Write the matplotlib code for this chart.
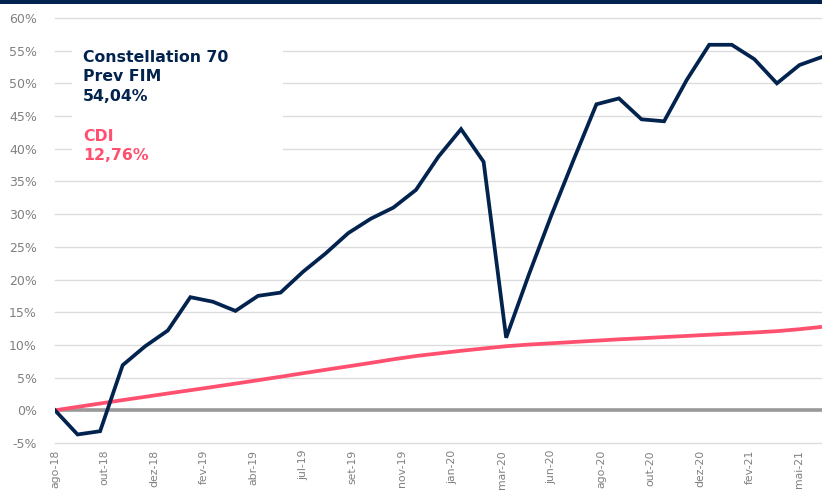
import numpy as np
import matplotlib
matplotlib.use("Agg")
from matplotlib import pyplot as plt
from matplotlib.patches import Rectangle

plt.rcParams['font.family'] = ['DejaVu Sans']

# monthly accumulated returns, ago-18 .. jun-21 (%)
fund = [0.0, -3.7, -3.2, 6.9, 9.8, 12.2, 17.3, 16.6, 15.2, 17.5,
        18.0, 21.2, 24.0, 27.1, 29.3, 31.0, 33.7, 38.8, 43.0, 38.0,
        11.1, 20.7, 29.8, 38.4, 46.8, 47.7, 44.5, 44.2, 50.5, 55.9,
        55.9, 53.7, 50.0, 52.8, 54.04]
cdi = [0.0, 0.52, 1.04, 1.56, 2.06, 2.57, 3.07, 3.57, 4.08, 4.60,
       5.13, 5.67, 6.2, 6.72, 7.25, 7.8, 8.3, 8.7, 9.1, 9.45,
       9.8, 10.05, 10.25, 10.45, 10.65, 10.85, 11.02, 11.2, 11.37, 11.55,
       11.72, 11.9, 12.1, 12.4, 12.76]
tick_labels = ['ago-18', 'out-18', 'dez-18', 'fev-19', 'abr-19', 'jul-19',
               'set-19', 'nov-19', 'jan-20', 'mar-20', 'jun-20', 'ago-20',
               'out-20', 'dez-20', 'fev-21', 'mai-21']
fund_lines = ['Constellation 70', 'Prev FIM']
fund_total = 54.04
cdi_name = 'CDI'
cdi_total = 12.76

navy = '#03234f'
pink = '#ff5070'
gray_txt = '#808080'

fig = plt.figure(figsize=(8.22, 4.91), dpi=100)
ax = fig.add_axes([0.0669, 0.0978, 0.9331, 0.8656])

x = np.arange(len(fund))
ax.plot(x, cdi, color=pink, lw=2.7, zorder=4, solid_capstyle='butt')
ax.plot(x, fund, color=navy, lw=2.7, zorder=5, solid_joinstyle='miter')
ax.axhline(0, color='#999999', lw=2.6, zorder=3)

ax.set_xlim(0, len(fund) - 1)
ax.set_ylim(-5, 60)
ax.set_yticks(np.arange(-5, 61, 5))
ax.set_yticklabels([f'{v}%' for v in range(-5, 61, 5)])
ax.set_xticks(np.linspace(0, 33, len(tick_labels)))
ax.set_xticklabels(tick_labels, rotation=90)
ax.grid(axis='y', color='#dcdcdc', lw=1.0, zorder=0)
for gl in ax.get_ygridlines():
    gl.set_clip_on(False)
ax.set_axisbelow(True)
for s in ax.spines.values():
    s.set_visible(False)
ax.tick_params(axis='both', length=0, colors=gray_txt)
ax.tick_params(axis='y', labelsize=9, pad=13)
ax.tick_params(axis='x', labelsize=7.8, pad=5)

# white box behind the labels
ax.add_patch(Rectangle((0.022, 0.642), 0.275, 0.33, transform=ax.transAxes,
                       facecolor='white', edgecolor='none', zorder=2))
label_rows = [(fund_lines[0], navy, 0.908), (fund_lines[1], navy, 0.863),
              (f'{fund_total:.2f}%'.replace('.', ','), navy, 0.815),
              (cdi_name, pink, 0.722),
              (f'{cdi_total:.2f}%'.replace('.', ','), pink, 0.676)]
for txt, col, yy in label_rows:
    ax.text(0.0365, yy, txt, transform=ax.transAxes, color=col,
            fontsize=11.3, fontweight='bold', va='center', zorder=6)

# navy strip on top
fig.add_artist(Rectangle((0, 0.991), 1, 0.009, transform=fig.transFigure,
                         facecolor=navy, edgecolor='none'))

fig.savefig('out.png', dpi=100)
